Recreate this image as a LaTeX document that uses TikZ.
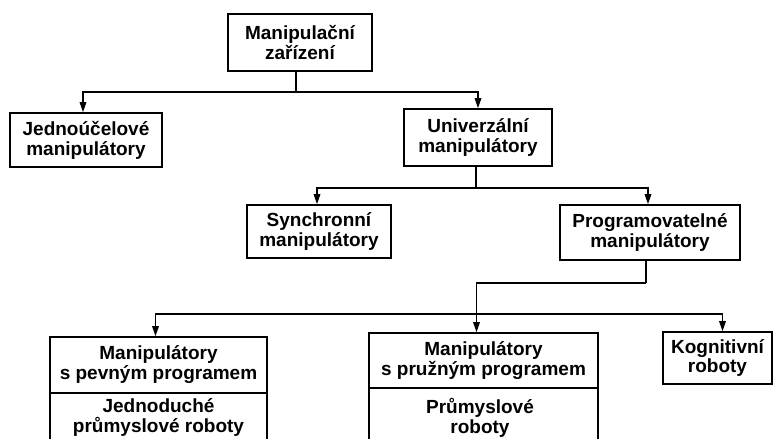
\documentclass[tikz,border=0pt]{standalone}
\usepackage{fontspec}
\setmainfont{Liberation Sans}
\usetikzlibrary{arrows.meta}
\begin{document}
\begin{tikzpicture}[x=1pt,y=-1pt,
  box/.style={draw=black, line width=1.6pt, rectangle, inner sep=0pt, align=center,
    font=\fontsize{19}{20}\selectfont\bfseries},
  txt/.style={inner sep=0pt, align=center, font=\fontsize{19}{20}\selectfont\bfseries},
  line/.style={draw=black, line width=1.6pt},
  arr/.style={line, -{Triangle[width=6.5pt,length=10pt]}}]
\useasboundingbox (0,0) rectangle (774,439);
\clip (0,0) rectangle (774,439);
% boxes
\node[box, minimum width=144pt, minimum height=57pt] (top) at (300,42.5) {Manipulační\\zařízení};
\node[box, minimum width=152pt, minimum height=54pt] (jed) at (86,140) {Jednoúčelové\\manipulátory};
\node[box, minimum width=148pt, minimum height=57pt] (uni) at (478,137.5) {Univerzální\\manipulátory};
\node[box, minimum width=144pt, minimum height=53pt] (syn) at (319,231.5) {Synchronní\\manipulátory};
\node[box, minimum width=180pt, minimum height=55pt] (prog) at (650,232.5) {Programovatelné\\manipulátory};
\node[box, minimum width=217pt, minimum height=56pt] (pevA) at (158.5,365) {Manipulátory\\s pevným programem};
\node[box, minimum width=217pt, minimum height=60pt] (pevB) at (158.5,423) {};
\node[txt, anchor=north] (pevT) at (158.5,398) {Jednoduché\\průmyslové roboty};
\node[box, minimum width=229pt, minimum height=55pt] (pruA) at (483.5,360.5) {Manipulátory\\s pružným programem};
\node[box, minimum width=229pt, minimum height=64pt] (pruB) at (483.5,420) {};
\node[txt, anchor=north] (pruT) at (480,398) {Průmyslové\\roboty};
\node[box, minimum width=109pt, minimum height=52pt] (kog) at (717.5,358) {Kognitivní\\roboty};
% bus levels
\coordinate (b1) at (0,92);
\coordinate (b2) at (0,188);
\coordinate (b3) at (0,283);
\coordinate (b4) at (0,314);
% connectors
\draw[line] ([xshift=-4pt]top.south) -- ([xshift=-4pt]top.south |- b1);
\draw[arr] ([xshift=-4pt]top.south |- b1) -| ([xshift=-3pt]jed.north);
\draw[arr] ([xshift=-4pt]top.south |- b1) -| (uni.north);
\draw[line] ([xshift=-2pt]uni.south) -- ([xshift=-2pt]uni.south |- b2);
\draw[arr] ([xshift=-2pt]uni.south |- b2) -| ([xshift=-2pt]syn.north);
\draw[arr] ([xshift=-2pt]uni.south |- b2) -| ([xshift=-2pt]prog.north);
\draw[line] ([xshift=-4pt]prog.south) -- ([xshift=-4pt]prog.south |- b3);
\draw[arr] ([xshift=-4pt]prog.south |- b3) -| ([xshift=-7pt]pruA.north);
\draw[arr] ([xshift=-7pt]pruA.north |- b4) -| ([xshift=-3pt]pevA.north);
\draw[arr] ([xshift=-7pt]pruA.north |- b4) -| ([xshift=5pt]kog.north);
\end{tikzpicture}
\end{document}
